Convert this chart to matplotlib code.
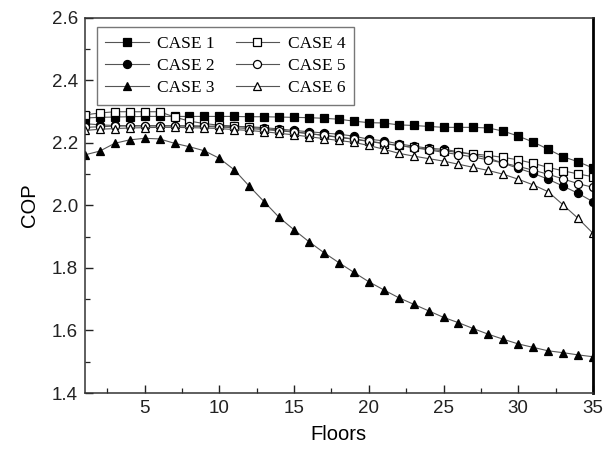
import matplotlib
matplotlib.use("Agg")
import matplotlib.pyplot as plt
from matplotlib.ticker import MultipleLocator, FormatStrFormatter

floors = list(range(1, 36))

case1 = [2.280, 2.282, 2.283, 2.284, 2.285, 2.285, 2.285, 2.285, 2.285, 2.285,
         2.285, 2.284, 2.284, 2.283, 2.282, 2.281, 2.279, 2.276, 2.270, 2.265,
         2.264, 2.258, 2.256, 2.253, 2.250, 2.250, 2.250, 2.248, 2.238, 2.222,
         2.203, 2.180, 2.156, 2.140, 2.120]
case2 = [2.262, 2.258, 2.256, 2.255, 2.255, 2.255, 2.255, 2.255, 2.254, 2.254,
         2.253, 2.252, 2.249, 2.245, 2.240, 2.236, 2.232, 2.228, 2.222, 2.212,
         2.207, 2.197, 2.190, 2.183, 2.180, 2.172, 2.162, 2.152, 2.135, 2.119,
         2.103, 2.084, 2.062, 2.039, 2.012]
case3 = [2.162, 2.174, 2.199, 2.210, 2.215, 2.213, 2.199, 2.188, 2.175, 2.151,
         2.114, 2.062, 2.012, 1.962, 1.922, 1.884, 1.849, 1.817, 1.786, 1.756,
         1.730, 1.705, 1.684, 1.663, 1.642, 1.625, 1.606, 1.588, 1.572, 1.557,
         1.546, 1.535, 1.529, 1.522, 1.516]
case4 = [2.290, 2.296, 2.300, 2.300, 2.300, 2.300, 2.283, 2.270, 2.262, 2.257,
         2.254, 2.250, 2.246, 2.241, 2.236, 2.230, 2.224, 2.218, 2.212, 2.205,
         2.198, 2.192, 2.186, 2.180, 2.175, 2.170, 2.165, 2.160, 2.154, 2.146,
         2.135, 2.122, 2.111, 2.101, 2.092]
case5 = [2.250, 2.252, 2.254, 2.255, 2.255, 2.255, 2.255, 2.254, 2.253, 2.251,
         2.249, 2.246, 2.243, 2.239, 2.235, 2.230, 2.225, 2.219, 2.213, 2.206,
         2.199, 2.192, 2.185, 2.178, 2.170, 2.163, 2.155, 2.146, 2.136, 2.125,
         2.113, 2.100, 2.085, 2.070, 2.058]
case6 = [2.240, 2.244, 2.246, 2.248, 2.249, 2.250, 2.250, 2.249, 2.248, 2.246,
         2.243, 2.240, 2.236, 2.231, 2.226, 2.220, 2.214, 2.208, 2.202, 2.192,
         2.180, 2.167, 2.158, 2.150, 2.142, 2.132, 2.122, 2.112, 2.100, 2.084,
         2.066, 2.044, 2.002, 1.959, 1.911]

labels = ["CASE 1", "CASE 2", "CASE 3", "CASE 4", "CASE 5", "CASE 6"]
series = [case1, case2, case3, case4, case5, case6]
markers = ["s", "o", "^", "s", "o", "^"]
filled = [True, True, True, False, False, False]
msizes = {"s": 5.2, "o": 5.8, "^": 6.0}

fig = plt.figure(figsize=(6.06, 4.61), dpi=100)
ax = fig.add_axes([0.140, 0.1475, 0.8385, 0.8135])

for lab, ys, mk, fl in zip(labels, series, markers, filled):
    ax.plot(floors, ys, color="#555555", linewidth=0.8, marker=mk,
            markersize=msizes[mk],
            markerfacecolor="black" if fl else "white",
            markeredgecolor="black", markeredgewidth=0.9, label=lab)

ax.set_xlim(1, 35)
ax.set_ylim(1.4, 2.6)
ax.set_xticks([5, 10, 15, 20, 25, 30, 35])
ax.xaxis.set_minor_locator(MultipleLocator(2.5))
ax.yaxis.set_major_locator(MultipleLocator(0.2))
ax.yaxis.set_minor_locator(MultipleLocator(0.1))
ax.yaxis.set_major_formatter(FormatStrFormatter("%.1f"))
ax.tick_params(which="major", direction="in", length=6, width=1.0,
               labelsize=13.5, pad=5, colors="#222222")
ax.tick_params(which="minor", direction="in", length=3.5, width=0.9,
               colors="#222222")
for lbl in ax.get_xticklabels() + ax.get_yticklabels():
    lbl.set_family("Liberation Sans")

for side in ["left", "bottom", "top"]:
    ax.spines[side].set_linewidth(1.1)
    ax.spines[side].set_color("#333333")
ax.spines["right"].set_linewidth(2.0)
ax.spines["right"].set_color("black")

ax.set_xlabel("Floors", fontsize=14.5, family="Liberation Sans", labelpad=6)
ax.set_ylabel("COP", fontsize=14.5, family="Liberation Sans", labelpad=9)

leg = ax.legend(ncol=2, loc="upper left", bbox_to_anchor=(0.023, 0.976),
                borderaxespad=0.0,
                prop={"family": "Liberation Serif", "size": 12.5},
                frameon=True, fancybox=False, edgecolor="#555555",
                handlelength=2.5, columnspacing=1.2, labelspacing=0.35,
                borderpad=0.5, handletextpad=0.5)
leg.get_frame().set_linewidth(1.0)

fig.savefig("out.png", dpi=100)
